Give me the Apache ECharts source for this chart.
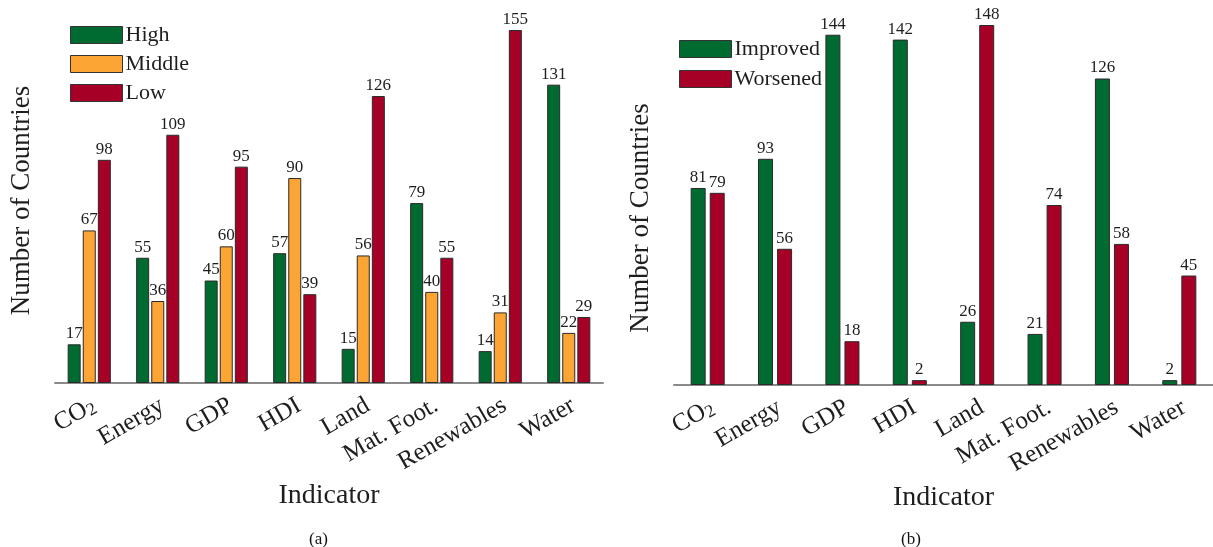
<!DOCTYPE html>
<html>
<head>
<meta charset="utf-8">
<script src="https://cdn.jsdelivr.net/npm/echarts@6/dist/echarts.min.js"></script>
<style>
  html, body { margin: 0; padding: 0; background: #fff; }
  #chart { width: 1213px; height: 547px; }
</style>
</head>
<body>
<div id="chart"></div>
<script>
// Indicators shared by both panels
const indicators = ['CO2', 'Energy', 'GDP', 'HDI', 'Land', 'Mat. Foot.', 'Renewables', 'Water'];

// Panel (a): countries per performance level
const highCounts   = [17, 55, 45, 57, 15, 79, 14, 131];
const middleCounts = [67, 36, 60, 90, 56, 40, 31, 22];
const lowCounts    = [98, 109, 95, 39, 126, 55, 155, 29];

// Panel (b): countries that improved / worsened
const improvedCounts = [81, 93, 144, 142, 26, 21, 126, 2];
const worsenedCounts = [79, 56, 18, 2, 148, 74, 58, 45];

const SERIF = '"Liberation Serif", "DejaVu Serif", serif';
const INK = '#1e1e1e';
const GREEN = '#006b30';
const ORANGE = '#fda534';
const RED = '#a60027';

const chart = echarts.init(document.getElementById('chart'), null, { renderer: 'canvas' });

function categoryAxis(gridIndex) {
  return {
    type: 'category',
    gridIndex: gridIndex,
    data: indicators,
    name: 'Indicator',
    nameLocation: 'middle',
    nameGap: 93,
    nameTextStyle: { fontFamily: SERIF, fontSize: 28, color: INK },
    axisLine: { lineStyle: { color: '#8a8a8a', width: 2 } },
    axisTick: { show: false },
    axisLabel: {
      rotate: 30,
      interval: 0,
      margin: 13,
      padding: [18, 0, 0, 0],
      fontFamily: SERIF,
      fontSize: 25,
      color: INK,
      formatter: function (v) { return v === 'CO2' ? 'CO{sub|2}' : v; },
      rich: { sub: { fontFamily: SERIF, fontSize: 18, color: INK, verticalAlign: 'bottom', padding: [9, 0, 0, 0] } }
    }
  };
}

function valueAxis(gridIndex, max, shiftPad) {
  return {
    type: 'value',
    gridIndex: gridIndex,
    min: 0,
    max: max,
    name: 'Number of Countries',
    nameLocation: 'middle',
    nameGap: 20,
    nameTextStyle: { fontFamily: SERIF, fontSize: 27, color: INK, padding: shiftPad },
    axisLine: { show: false },
    axisTick: { show: false },
    axisLabel: { show: false },
    splitLine: { show: false }
  };
}

function barSeries(name, data, color, axisIdx, width, gap) {
  return {
    name: name,
    type: 'bar',
    xAxisIndex: axisIdx,
    yAxisIndex: axisIdx,
    data: data,
    barWidth: width,
    barGap: gap,
    itemStyle: { color: color, borderColor: '#2a2a2a', borderWidth: 1 },
    label: {
      show: true,
      position: 'top',
      distance: 2,
      fontFamily: SERIF,
      fontSize: 17,
      color: INK
    }
  };
}

const legendText = { fontFamily: SERIF, fontSize: 22, color: INK, padding: [0, 0, 0, -2] };

chart.setOption({
  animation: false,
  backgroundColor: '#ffffff',
  grid: [
    { left: 55, top: 30, width: 548, height: 353 },
    { left: 674, top: 25, width: 547, height: 360 }
  ],
  xAxis: [categoryAxis(0), categoryAxis(1)],
  yAxis: [valueAxis(0, 155, [0, 0, 0, 12]), valueAxis(1, 148, [0, 26, 0, 0])],
  legend: [
    {
      data: ['High', 'Middle', 'Low'],
      orient: 'vertical',
      left: 70, top: 24, padding: 0,
      icon: 'rect',
      itemWidth: 52, itemHeight: 17, itemGap: 7,
      itemStyle: { borderColor: '#333', borderWidth: 1 },
      textStyle: legendText
    },
    {
      data: ['Improved', 'Worsened'],
      orient: 'vertical',
      left: 679, top: 38, padding: 0,
      icon: 'rect',
      itemWidth: 52, itemHeight: 17, itemGap: 8,
      itemStyle: { borderColor: '#333', borderWidth: 1 },
      textStyle: legendText
    }
  ],
  title: [
    { text: '(a)', left: 309, top: 531, padding: 0, textStyle: { fontFamily: SERIF, fontSize: 17, fontWeight: 'normal', color: '#111' } },
    { text: '(b)', left: 901, top: 531, padding: 0, textStyle: { fontFamily: SERIF, fontSize: 17, fontWeight: 'normal', color: '#111' } }
  ],
  series: [
    barSeries('High', highCounts, GREEN, 0, 13, '16%'),
    barSeries('Middle', middleCounts, ORANGE, 0, 13, '16%'),
    barSeries('Low', lowCounts, RED, 0, 13, '16%'),
    barSeries('Improved', improvedCounts, GREEN, 1, 15, '27%'),
    barSeries('Worsened', worsenedCounts, RED, 1, 15, '27%')
  ]
});
</script>
</body>
</html>
